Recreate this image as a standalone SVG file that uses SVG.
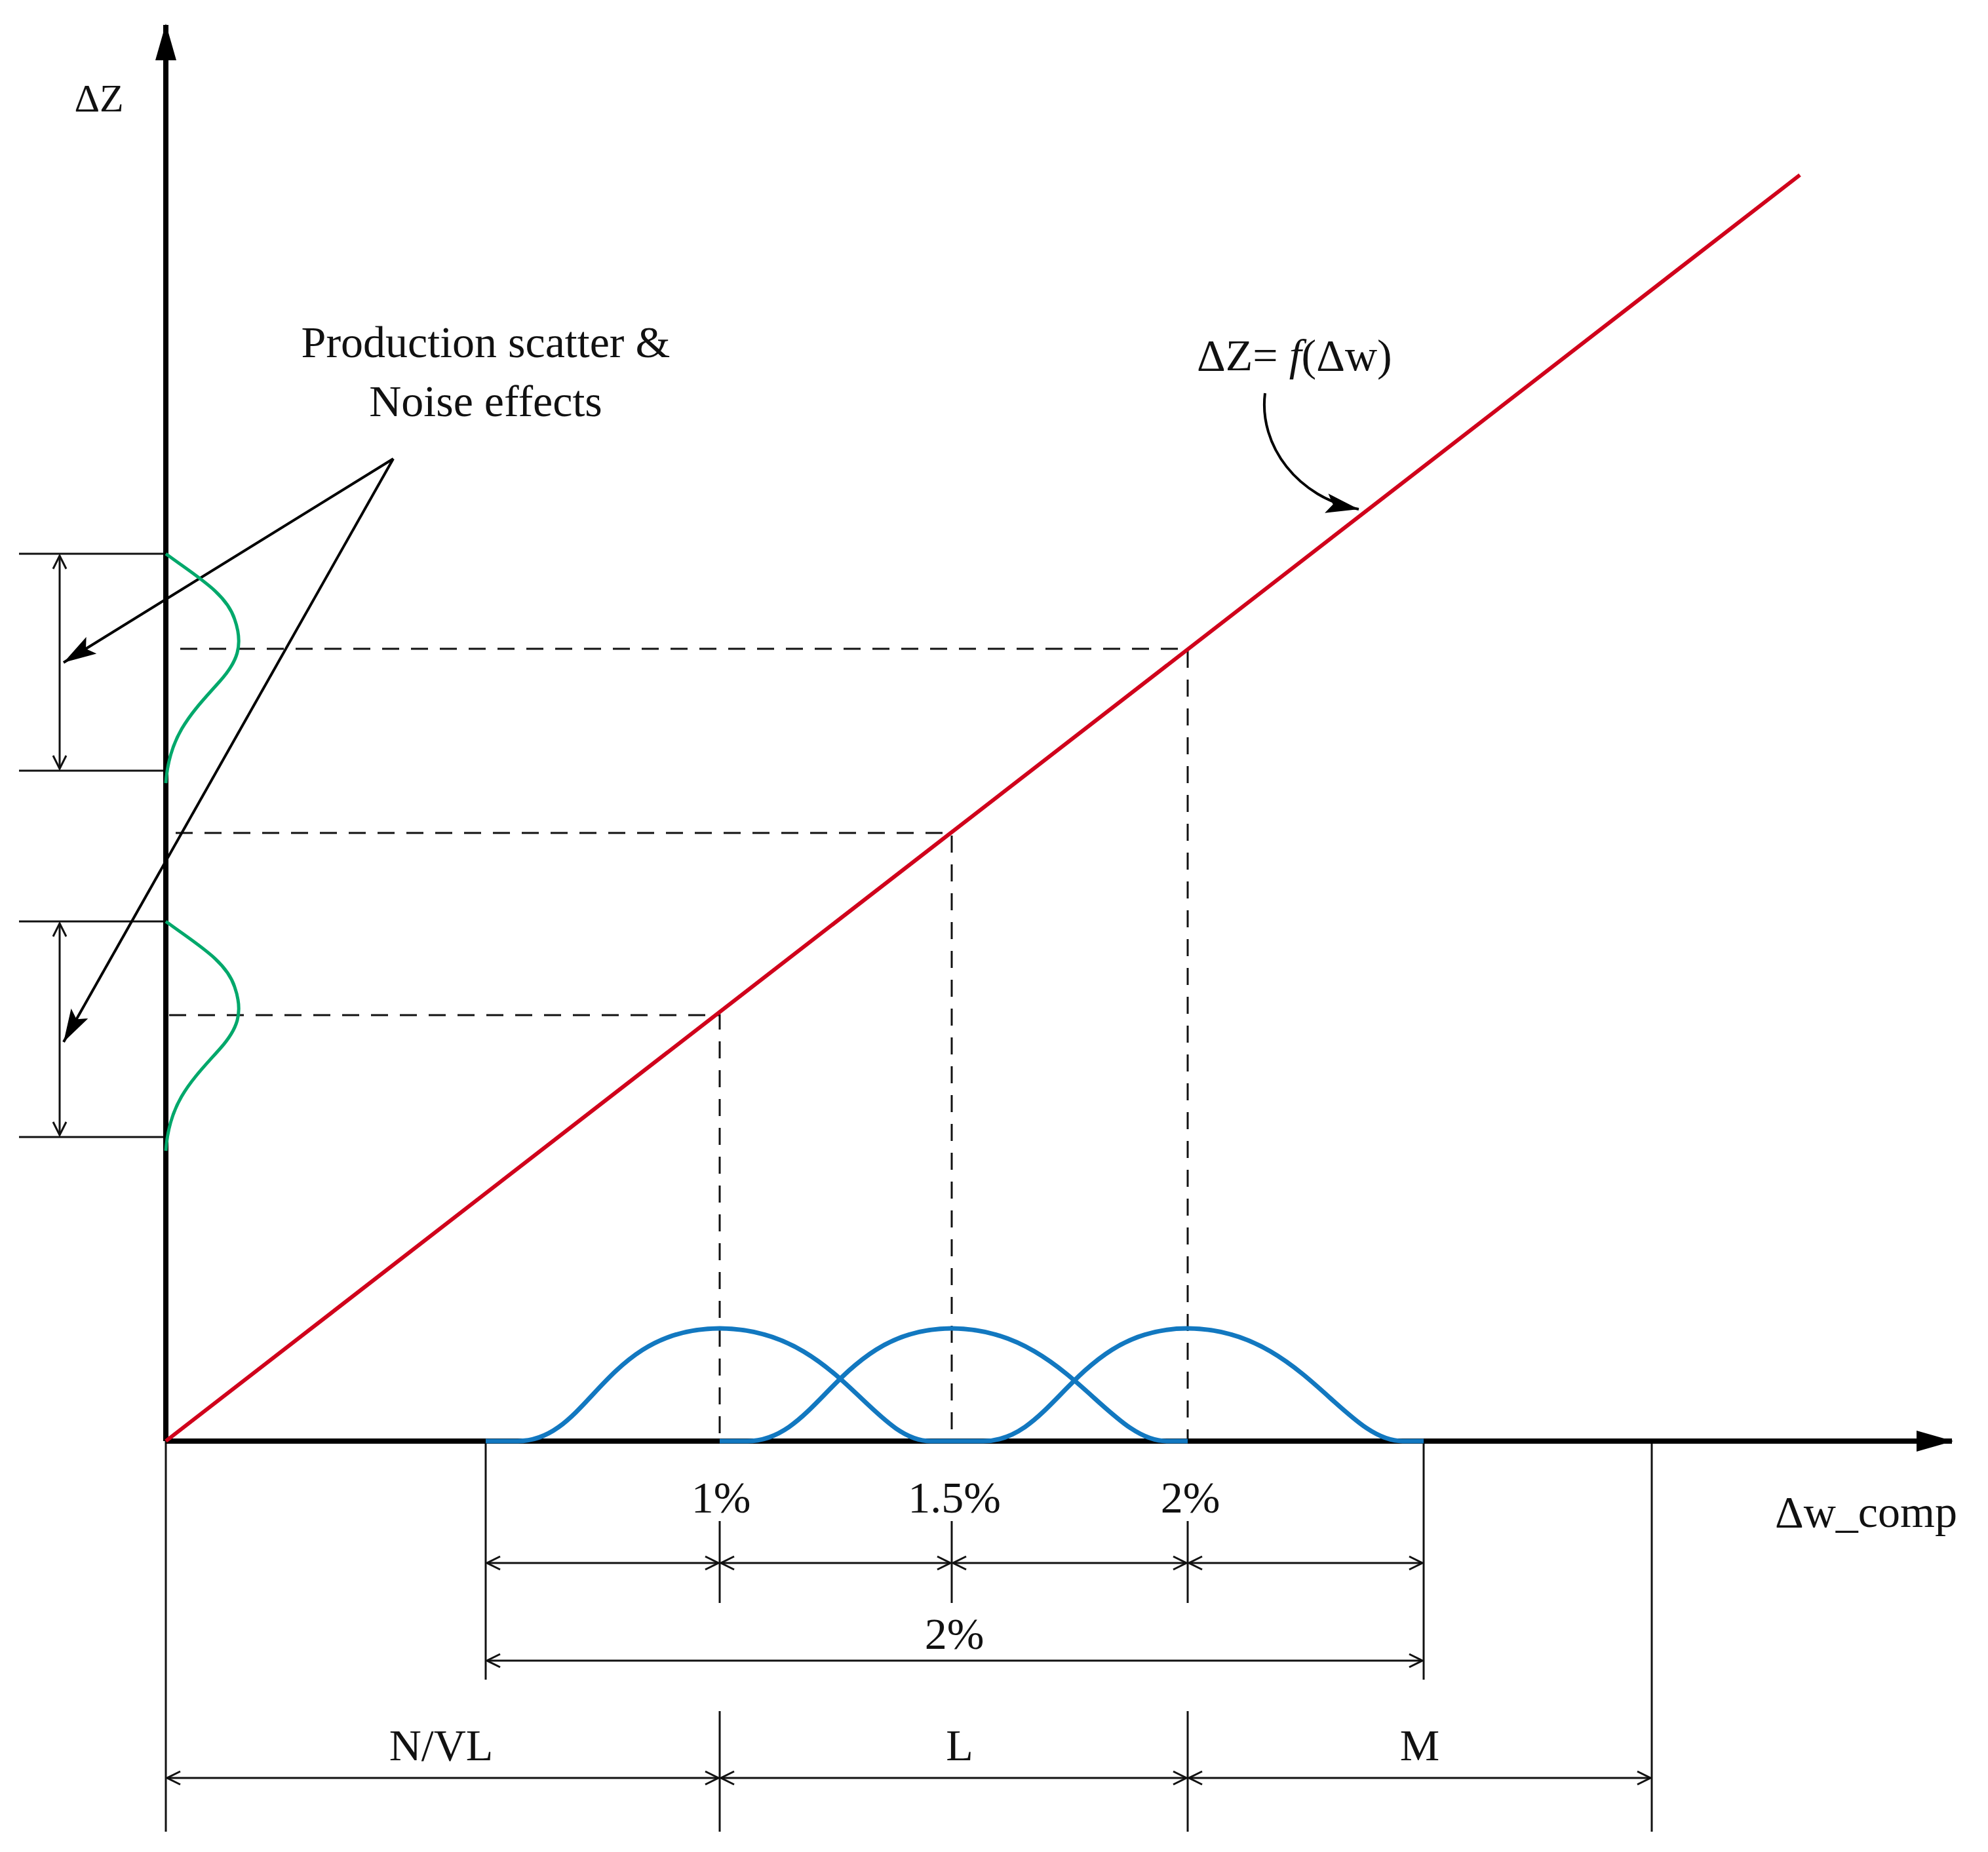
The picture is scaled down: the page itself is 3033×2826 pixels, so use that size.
<svg xmlns="http://www.w3.org/2000/svg" width="3033" height="2826" viewBox="0 0 3033 2826">
<style>
text{font-family:"Liberation Serif","Times New Roman",serif;font-size:68px;fill:#111;text-anchor:middle}
.thin{stroke:#111;stroke-width:3;fill:none}
.dash{stroke:#111;stroke-width:3;fill:none;stroke-dasharray:26 18}
.dim{stroke:#111;stroke-width:3;fill:none;marker-start:url(#oa);marker-end:url(#oa)}
.green{stroke:#00a86b;stroke-width:5;fill:none}
.blue{stroke:#1278c0;stroke-width:7;fill:none}
.ptr{stroke:#000;stroke-width:4;fill:none;marker-end:url(#fa)}
</style>
<defs>
<marker id="oa" viewBox="0 0 24 24" refX="22" refY="12" markerWidth="24" markerHeight="24" markerUnits="userSpaceOnUse" orient="auto-start-reverse">
<path d="M2,2 L22,12 L2,22" fill="none" stroke="#111" stroke-width="3"/>
</marker>
<marker id="fa" viewBox="0 0 50 30" refX="50" refY="15" markerWidth="50" markerHeight="30" markerUnits="userSpaceOnUse" orient="auto">
<path d="M0,0 L50,15 L0,30 L10,15 Z" fill="#000"/>
</marker>
<marker id="ax" viewBox="0 0 56 32" refX="54" refY="16" markerWidth="56" markerHeight="32" markerUnits="userSpaceOnUse" orient="auto">
<path d="M0,0 L56,16 L0,32 Z" fill="#000"/>
</marker>
</defs>
<rect width="3033" height="2826" fill="#fff"/>
<g id="connectors">
<path class="dash" d="M275,990 H1812 V2199"/>
<path class="dash" d="M268,1271 H1452 V2199"/>
<path class="dash" d="M258,1549 H1098 V2199"/>
<path class="thin" d="M29,845 H253 M29,1176 H253 M29,1406 H253 M29,1735 H253"/>
<path class="dim" d="M91,848 V1173"/>
<path class="dim" d="M91,1409 V1732"/>
<path class="thin" d="M741,2199 V2563 M2172,2199 V2563 M1098,2321 V2446 M1452,2321 V2446 M1812,2321 V2446"/>
<path class="dim" d="M743,2385 H1096"/><path class="dim" d="M1100,2385 H1450"/><path class="dim" d="M1454,2385 H1810"/><path class="dim" d="M1814,2385 H2170"/>
<path class="dim" d="M743,2534 H2170"/>
<path class="thin" d="M253,2199 V2795 M1098,2611 V2795 M1812,2611 V2795 M2520,2199 V2795"/>
<path class="dim" d="M255,2713 H1096"/><path class="dim" d="M1100,2713 H1810"/><path class="dim" d="M1814,2713 H2518"/>
<path class="ptr" d="M600,700 L97,1011"/>
<path class="ptr" d="M600,700 L97,1590"/>
<path class="ptr" d="M1930,600 C1920,680 1980,760 2073,777"/>
</g>
<g id="axes">
<line x1="253" y1="2199" x2="253" y2="38" stroke="#000" stroke-width="8" marker-end="url(#ax)"/>
<line x1="253" y1="2199" x2="2978" y2="2199" stroke="#000" stroke-width="8" marker-end="url(#ax)"/>
<text x="151" y="170" style="font-size:60px">ΔZ</text>
<text x="2847" y="2330">Δw_comp</text>
</g>
<g id="red-line">
<line x1="253" y1="2199" x2="2746" y2="267" stroke="#d0021b" stroke-width="6"/>
<text x="1826" y="565" style="text-anchor:start">ΔZ=  <tspan font-style="italic">f</tspan>(Δw)</text>
</g>
<g id="green-curves">
<path class="green" d="M253,845 C300,880 345,905 358,945 C372,985 362,1010 335,1040 C295,1085 258,1120 253,1195"/>
<path class="green" d="M253,1406 C300,1441 345,1466 358,1506 C372,1546 362,1571 335,1601 C295,1646 258,1680 253,1756"/>
</g>
<g id="blue-curves">
<path class="blue" d="M741,2199 H790 C900,2199 920,2027 1098,2027 C1276,2027 1330,2199 1420,2199 H1452"/>
<path class="blue" d="M1098,2199 H1140 C1250,2199 1280,2027 1452,2027 C1624,2027 1690,2199 1780,2199 H1812"/>
<path class="blue" d="M1452,2199 H1500 C1610,2199 1640,2027 1812,2027 C1984,2027 2050,2199 2140,2199 H2172"/>
</g>
<g id="labels">
<text x="741" y="545">Production scatter &amp;</text>
<text x="741" y="635">Noise effects</text>
<text x="1100" y="2308">1%</text>
<text x="1456" y="2308">1.5%</text>
<text x="1816" y="2308">2%</text>
<text x="1456" y="2516">2%</text>
<text x="673" y="2686">N/VL</text>
<text x="1464" y="2686">L</text>
<text x="2166" y="2686">M</text>
</g>
</svg>
